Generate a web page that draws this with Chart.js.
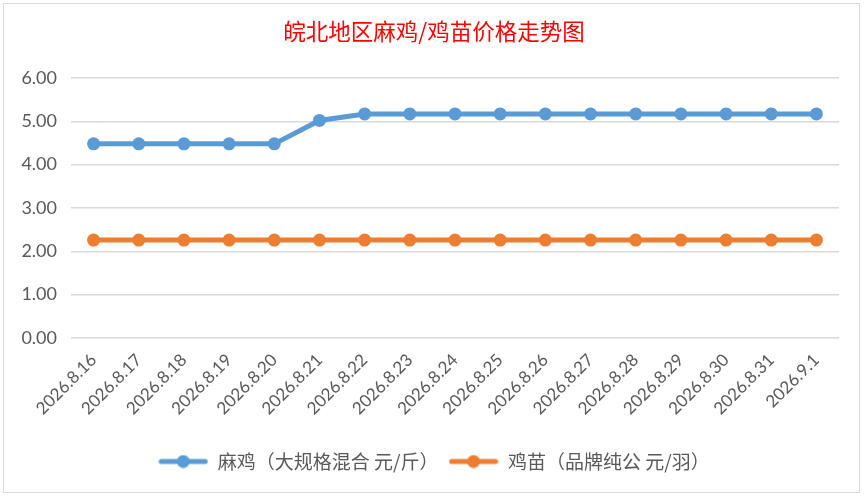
<!DOCTYPE html>
<html><head><meta charset="utf-8">
<script src="https://cdn.jsdelivr.net/npm/chart.js@4"></script>
<style>
html,body{margin:0;padding:0;background:#fff;}
#wrap{position:relative;width:868px;height:501px;overflow:hidden;background:#fff;}
#frame{position:absolute;left:3px;top:3px;width:857px;height:490px;border:1.5px solid #d9d9d9;box-sizing:border-box;}
#c{position:absolute;left:0;top:0;}
</style></head>
<body>
<div id="wrap"><div id="frame"></div><canvas id="c" width="868" height="501"></canvas></div>
<script>
const categories = ['2026.8.16','2026.8.17','2026.8.18','2026.8.19','2026.8.20','2026.8.21','2026.8.22','2026.8.23','2026.8.24','2026.8.25','2026.8.26','2026.8.27','2026.8.28','2026.8.29','2026.8.30','2026.8.31','2026.9.1'];
const maji = [4.48,4.48,4.48,4.48,4.48,5.02,5.17,5.17,5.17,5.17,5.17,5.17,5.17,5.17,5.17,5.17,5.17];
const jimiao = [2.26,2.26,2.26,2.26,2.26,2.26,2.26,2.26,2.26,2.26,2.26,2.26,2.26,2.26,2.26,2.26,2.26];
const seriesNames = ['麻鸡（大规格混合 元/斤）','鸡苗（品牌纯公 元/羽）'];
const yTicks = [0,1,2,3,4,5,6];
const titleText = '皖北地区麻鸡/鸡苗价格走势图';
const colors = ['#5b9bd5','#ed7d31'];

function legendIcon(color){
  const cv = document.createElement('canvas');
  cv.width = 50; cv.height = 14;
  const g = cv.getContext('2d');
  g.strokeStyle = color; g.lineWidth = 5; g.lineCap = 'round';
  g.beginPath(); g.moveTo(3,7); g.lineTo(47,7); g.stroke();
  g.fillStyle = color; g.beginPath(); g.arc(25,7,6.5,0,Math.PI*2); g.fill();
  return cv;
}
const icons = colors.map(legendIcon);

new Chart(document.getElementById('c'), {
  type: 'line',
  data: {
    labels: categories,
    datasets: [
      {label: seriesNames[0], data: maji, borderColor: colors[0], backgroundColor: colors[0], borderWidth: 5, pointRadius: 6.5, pointHoverRadius: 6.5, pointBackgroundColor: colors[0], pointBorderWidth: 0, tension: 0},
      {label: seriesNames[1], data: jimiao, borderColor: colors[1], backgroundColor: colors[1], borderWidth: 5, pointRadius: 6.5, pointHoverRadius: 6.5, pointBackgroundColor: colors[1], pointBorderWidth: 0, tension: 0}
    ]
  },
  options: {
    responsive: false,
    animation: false,
    devicePixelRatio: 1,
    layout: {padding: {left: 20, right: 20, top: 0, bottom: 20}},
    plugins: {
      title: {display: true, text: titleText, color: '#ff0000', font: {family: '"Noto Sans CJK SC", sans-serif', size: 22.5, weight: 'normal'}, padding: {top: 18, bottom: 33}},
      legend: {
        position: 'bottom',
        labels: {
          usePointStyle: true, pointStyleWidth: 50, boxHeight: 14, padding: 10,
          color: '#595959', font: {family: '"Noto Sans CJK SC", sans-serif', size: 19},
          generateLabels(chart){
            const items = Chart.defaults.plugins.legend.labels.generateLabels(chart);
            items.forEach((it,i)=>{ it.pointStyle = icons[i]; });
            return items;
          }
        }
      },
      tooltip: {enabled: false}
    },
    scales: {
      x: {
        offset: true,
        grid: {display: false},
        border: {display: false},
        ticks: {color: '#595959', font: {family: 'Lato, sans-serif', size: 17}, minRotation: 45, maxRotation: 45, padding: 4},
        afterFit(axis){ axis.height = 104; }
      },
      y: {
        min: 0, max: 6,
        afterBuildTicks(axis){ axis.ticks = yTicks.map(v=>({value:v})); },
        grid: {color: '#d9d9d9', lineWidth: 1.5, drawTicks: false},
        border: {display: false},
        ticks: {color: '#595959', font: {family: 'Lato, sans-serif', size: 18}, padding: 14, callback: v => Number(v).toFixed(2)},
        afterFit(axis){ axis.width = 51; }
      },
      yRight: {
        position: 'right', display: true,
        grid: {display: false}, border: {display: false},
        ticks: {display: false},
        afterFit(axis){ axis.width = 9; }
      }
    }
  }
});
</script>
</body></html>
